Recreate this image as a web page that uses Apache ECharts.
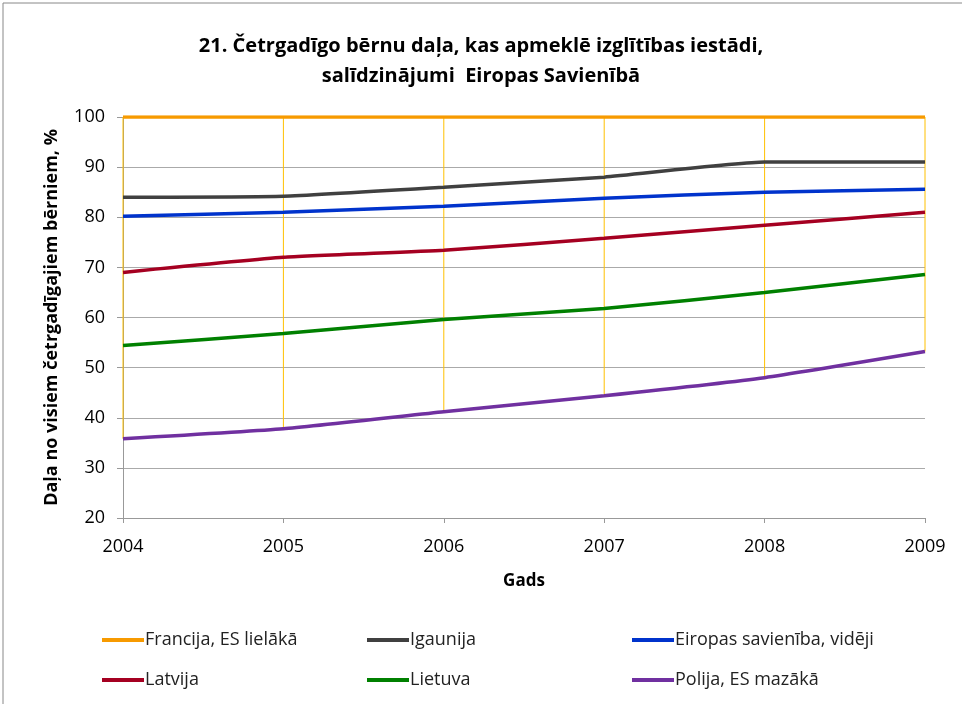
<!DOCTYPE html>
<html>
<head>
<meta charset="utf-8">
<script src="https://cdn.jsdelivr.net/npm/echarts@6/dist/echarts.min.js"></script>
<style>
  html, body { margin: 0; padding: 0; background: #fff; }
  #chart { width: 962px; height: 704px; }
</style>
</head>
<body>
<div id="chart"></div>
<script>
// data
const years = ['2004', '2005', '2006', '2007', '2008', '2009'];
const francija = [100, 100, 100, 100, 100, 100];
const igaunija = [84, 84.2, 86, 88, 91, 91];
const eiropa = [80.2, 81, 82.2, 83.8, 85, 85.6];
const latvija = [69, 72, 73.4, 75.8, 78.4, 81];
const lietuva = [54.4, 56.8, 59.6, 61.8, 65, 68.6];
const polija = [35.8, 37.8, 41.2, 44.4, 48, 53.2];

const seriesNames = ['Francija, ES lielākā', 'Igaunija', 'Eiropas savienība, vidēji', 'Latvija', 'Lietuva', 'Polija, ES mazākā'];
const seriesData = [francija, igaunija, eiropa, latvija, lietuva, polija];
const colors = ['#F79A00', '#404040', '#0033CC', '#A50021', '#008000', '#7030A0'];

const font = '"Open Sans", "Noto Sans", sans-serif';

// high-low drop lines between the top and bottom series
const dropLines = years.map((y, i) => {
    const vals = seriesData.map(s => s[i]);
    return [i, Math.min(...vals), Math.max(...vals)];
});

const chart = echarts.init(document.getElementById('chart'), null, { renderer: 'canvas' });

const lineSeries = seriesNames.map((name, k) => ({
    name: name,
    type: 'line',
    data: seriesData[k],
    symbol: 'none',
    smooth: 0.15,
    z: 5 + k,
    lineStyle: { color: colors[k], width: 3.5 },
    itemStyle: { color: colors[k] }
}));

function legendCol(names, left) {
    return {
        orient: 'vertical',
        left: left,
        top: 626,
        itemGap: 22,
        itemWidth: 42,
        itemHeight: 4,
        icon: 'rect',
        data: names,
        textStyle: { fontFamily: font, fontSize: 18, color: '#222', padding: [0, 0, 0, -4] }
    };
}

const option = {
    backgroundColor: '#fff',
    animation: false,
    title: {
        text: '21. Četrgadīgo bērnu daļa, kas apmeklē izglītības iestādi,\nsalīdzinājumi  Eiropas Savienībā',
        left: 'center',
        top: 26,
        textStyle: { fontFamily: font, fontSize: 20, fontWeight: 'bold', color: '#000', lineHeight: 30 }
    },
    legend: [
        legendCol([seriesNames[0], seriesNames[3]], 97),
        legendCol([seriesNames[1], seriesNames[4]], 362),
        legendCol([seriesNames[2], seriesNames[5]], 627)
    ],
    grid: { left: 123, right: 37, top: 117, bottom: 186 },
    xAxis: {
        type: 'category',
        data: years,
        boundaryGap: false,
        name: 'Gads',
        nameLocation: 'middle',
        nameGap: 55,
        nameTextStyle: { fontFamily: font, fontSize: 17, fontWeight: 'bold', color: '#000' },
        axisLine: { lineStyle: { color: '#999', width: 1 } },
        axisTick: { show: true, length: 5, lineStyle: { color: '#999' } },
        axisLabel: { fontFamily: font, fontSize: 18, color: '#000', margin: 20 },
        splitLine: { show: false }
    },
    yAxis: {
        type: 'value',
        min: 20,
        max: 100,
        interval: 10,
        name: 'Daļa no visiem četrgadīgajiem bērniem, %',
        nameLocation: 'middle',
        nameGap: 62,
        nameTextStyle: { fontFamily: font, fontSize: 18, fontWeight: 'bold', color: '#000' },
        axisLine: { show: true, lineStyle: { color: '#999', width: 1 } },
        axisTick: { show: true, length: 6, lineStyle: { color: '#999' } },
        axisLabel: { fontFamily: font, fontSize: 18, color: '#000', margin: 18 },
        splitLine: { lineStyle: { color: '#aaa', width: 1 } }
    },
    series: [{
        name: 'drop',
        type: 'custom',
        silent: true,
        z: 2,
        data: dropLines,
        renderItem: function (params, api) {
            const lo = api.coord([api.value(0), api.value(1)]);
            const hi = api.coord([api.value(0), api.value(2)]);
            return {
                type: 'line',
                shape: { x1: lo[0], y1: lo[1], x2: hi[0], y2: hi[1] },
                style: { stroke: '#FFC000', lineWidth: 1 }
            };
        }
    }].concat(lineSeries),
    graphic: [{
        type: 'rect',
        shape: { x: 3, y: 3, width: 970, height: 720 },
        style: { fill: 'none', stroke: '#888', lineWidth: 1 },
        silent: true
    }]
};

chart.setOption(option);
</script>
</body>
</html>
